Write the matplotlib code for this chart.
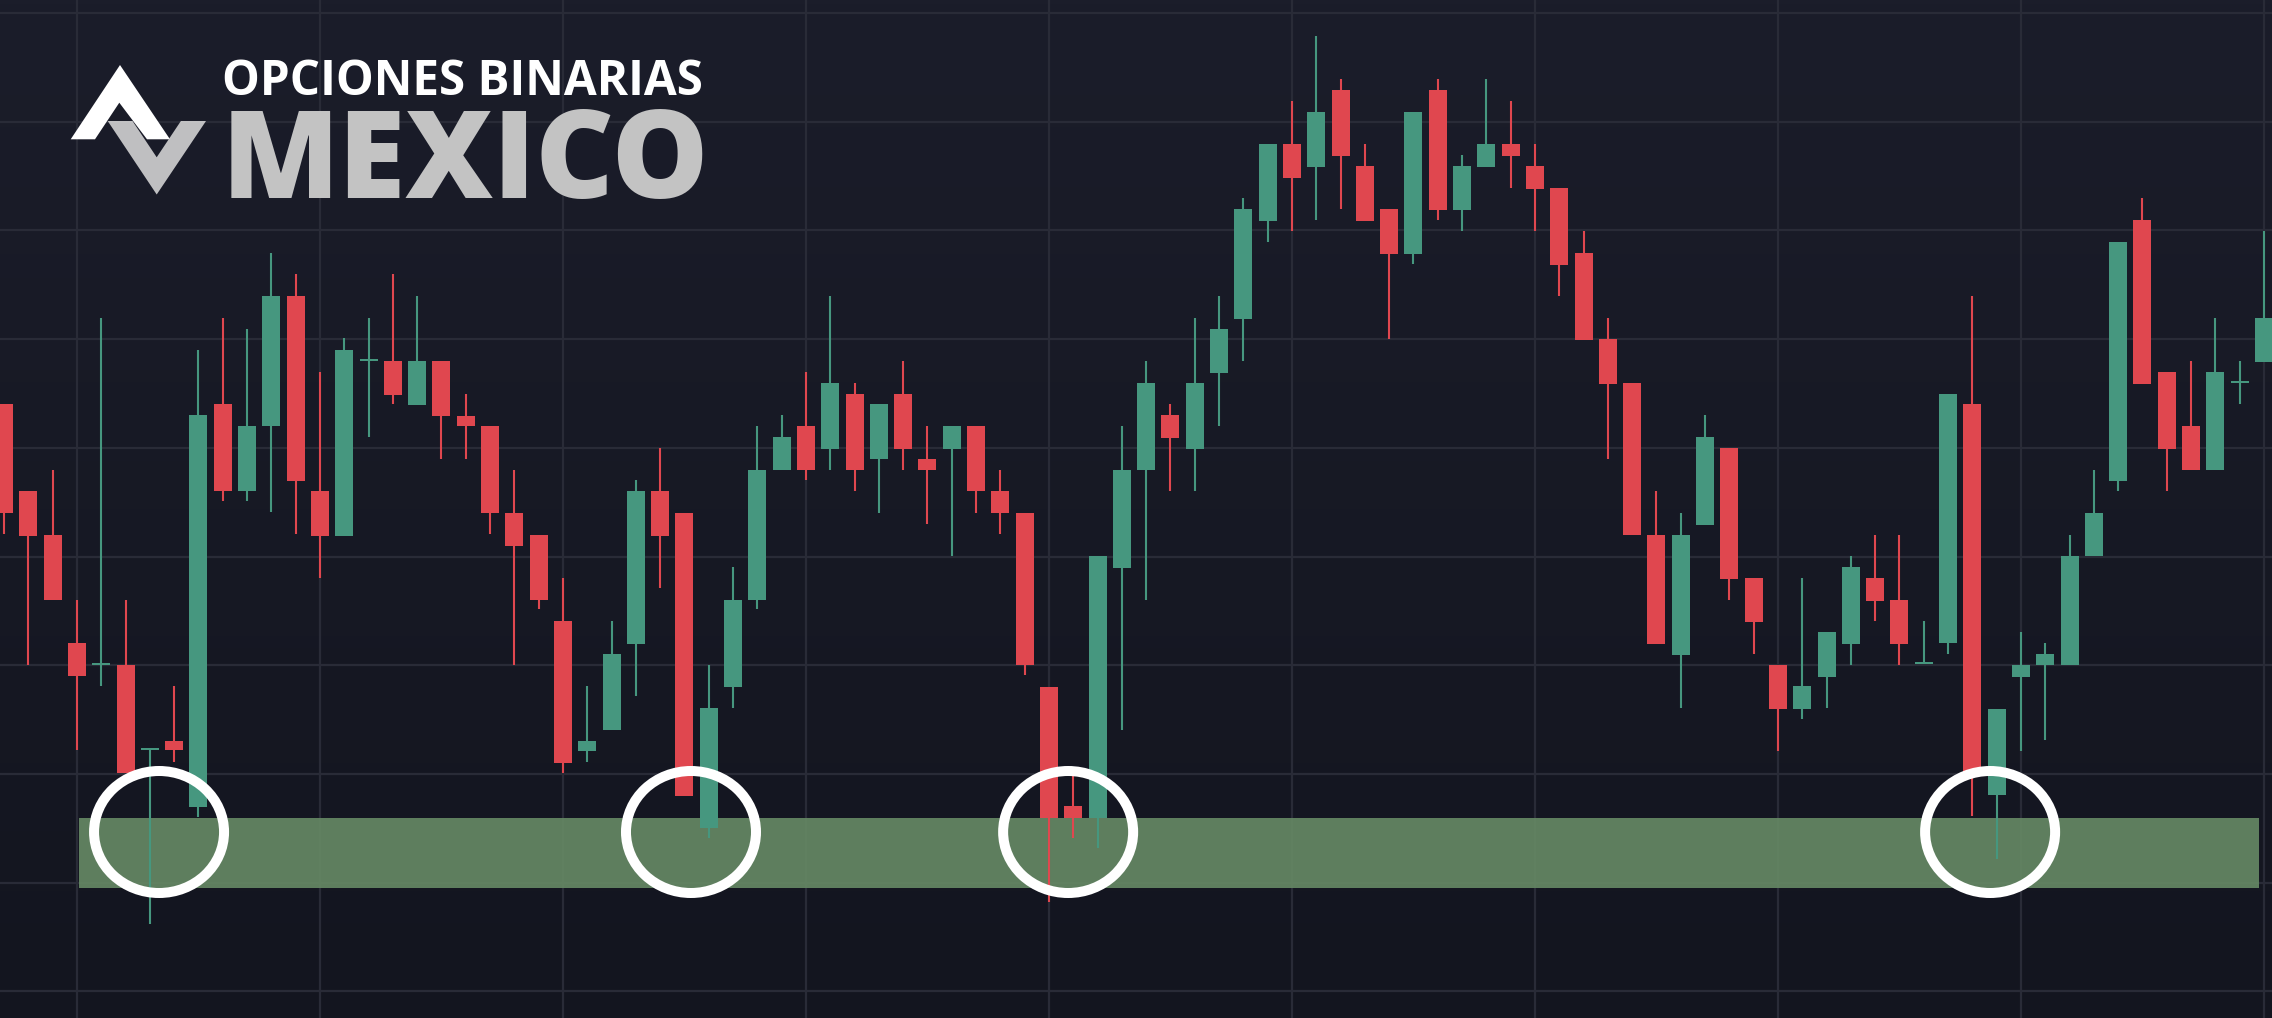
import numpy as np
import matplotlib
matplotlib.use('Agg')
import matplotlib.pyplot as plt
from matplotlib.patches import Rectangle, Ellipse, Polygon

# ---- candle data (arbitrary price units) ----
opens = [596, 509, 465, 357, 335, 335, 250, 259, 193, 596,
         509, 574, 704, 509, 464, 639, 639, 595, 639, 584,
         574, 487, 465, 379, 249, 270, 356, 509, 487, 172,
         313, 400, 530, 574, 551, 606, 541, 606, 541, 551,
         574, 509, 487, 313, 194, 182, 432, 530, 585, 551,
         627, 681, 779, 856, 833, 910, 834, 791, 746, 910,
         790, 833, 856, 834, 812, 747, 661, 617, 465, 345,
         475, 552, 422, 335, 291, 323, 356, 422, 400, 336,
         357, 596, 205, 323, 335, 335, 444, 519, 780, 628,
         574, 530, 617, 638]
highs = [596, 509, 530, 400, 682, 400, 251, 314, 650, 682,
         671, 747, 726, 628, 662, 682, 726, 704, 639, 606,
         574, 530, 465, 422, 314, 379, 520, 552, 487, 335,
         433, 574, 585, 628, 704, 617, 596, 639, 574, 574,
         574, 530, 487, 313, 225, 444, 574, 639, 596, 682,
         704, 802, 856, 899, 964, 921, 856, 791, 888, 921,
         845, 921, 899, 856, 812, 769, 682, 617, 509, 487,
         585, 552, 422, 335, 422, 368, 444, 465, 465, 379,
         606, 704, 291, 368, 357, 465, 530, 758, 802, 628,
         639, 682, 639, 769]
lows = [466, 335, 400, 250, 314, 227, 76, 238, 183, 499,
        499, 488, 466, 422, 464, 563, 596, 595, 541, 541,
        466, 335, 391, 227, 238, 270, 304, 412, 204, 162,
        292, 391, 530, 520, 530, 509, 487, 530, 476, 444,
        487, 466, 325, 98, 162, 152, 270, 400, 509, 509,
        574, 639, 758, 769, 780, 791, 779, 661, 736, 780,
        769, 833, 812, 769, 704, 660, 541, 465, 356, 292,
        475, 400, 346, 249, 281, 292, 335, 379, 335, 336,
        346, 184, 141, 249, 260, 335, 444, 509, 616, 509,
        530, 530, 596, 638]
closes = [487, 464, 400, 324, 336, 227, 251, 250, 585, 509,
          574, 704, 519, 464, 650, 640, 605, 639, 584, 574,
          487, 454, 400, 237, 259, 346, 509, 464, 204, 292,
          400, 530, 563, 530, 617, 530, 596, 551, 530, 574,
          509, 487, 335, 182, 182, 444, 530, 617, 562, 617,
          671, 791, 856, 822, 888, 844, 779, 746, 888, 790,
          834, 856, 844, 811, 735, 660, 616, 465, 356, 465,
          563, 421, 378, 291, 314, 368, 433, 399, 356, 337,
          606, 228, 291, 335, 346, 444, 487, 758, 616, 551,
          530, 628, 618, 682]

# support zone (price range) and the candles it spans
zone_low, zone_high = 112, 182
zone_start, zone_end = 3.09, 92.8
# highlighted touches of the support (candle position)
touch_positions = [6.38, 28.27, 43.79, 81.73]
touch_level = 168

logo_top = "OPCIONES BINARIAS"
logo_bottom = "MEXICO"

UP = '#46977f'
DOWN = '#e0474f'

W, H = 2272, 1018
fig = plt.figure(figsize=(W / 100, H / 100), dpi=100)
ax = fig.add_axes([0, 0, 1, 1])
xlim = (-0.165, 93.33)
ylim = (-18, 1000)

# background gradient
top = np.array([27, 29, 42]) / 255
bot = np.array([19, 21, 31]) / 255
t = np.linspace(0, 1, 256)[:, None]
grad = (top * (1 - t) + bot * t)[:, None, :]
ax.imshow(grad, extent=[xlim[0], xlim[1], ylim[0], ylim[1]], aspect='auto',
          origin='upper', zorder=-10)
ax.set_xlim(*xlim)
ax.set_ylim(*ylim)

# grid
ax.set_xticks(np.arange(3, 94, 10))
ax.set_yticks(987 - 108.7 * np.arange(10))
ax.grid(True, color='#292b37', lw=1.6)
ax.set_axisbelow(True)
ax.tick_params(length=0, labelbottom=False, labelleft=False)
for s in ax.spines.values():
    s.set_visible(False)

o = np.array(opens, float)
c = np.array(closes, float)
hi = np.array(highs, float)
lo = np.array(lows, float)
x = np.arange(len(o))
cols = np.where(c >= o, UP, DOWN)

# zone
ax.add_patch(Rectangle((zone_start, zone_low), zone_end - zone_start,
                       zone_high - zone_low, facecolor=(101/255, 136/255, 100/255),
                       alpha=0.92, lw=0, zorder=2))

# candles
ax.vlines(x, lo, hi, colors=cols, lw=1.5, zorder=3)
bottoms = np.minimum(o, c)
heights = np.maximum(np.abs(c - o), 2.5)
ax.bar(x, heights, bottom=bottoms, width=0.74, color=cols, lw=0, zorder=4)

# circles
for cx in touch_positions:
    ax.add_patch(Ellipse((cx, touch_level), 5.35, 122, fill=False,
                         ec='white', lw=7.2, zorder=6))

# logo overlay (pixel coordinates)
ax2 = fig.add_axes([0, 0, 1, 1])
ax2.set_xlim(0, W)
ax2.set_ylim(H, 0)
ax2.axis('off')
ax2.patch.set_alpha(0)

ax2.add_patch(Polygon([(70.7, 139.3), (120, 65), (170, 139.3), (147, 139.3),
                       (119.3, 102.7), (95, 139.3)], closed=True,
                      fc='white', lw=0, zorder=1))
ax2.add_patch(Polygon([(107.7, 121), (132.5, 121), (156.7, 157.3), (180.9, 121),
                       (206, 121), (156.7, 194.5)], closed=True,
                      fc='#d7d7d7', alpha=0.88, lw=0, zorder=2))

ax2.text(222, 198, logo_bottom, fontsize=87.5, fontweight='heavy',
         family=['Open Sans', 'DejaVu Sans'], color='#c3c3c3',
         ha='left', va='baseline', zorder=3)
ax2.text(222, 95, logo_top, fontsize=34.3, fontweight='bold',
         family=['Open Sans', 'DejaVu Sans'], color='white',
         ha='left', va='baseline', zorder=3)

fig.savefig('out.png', dpi=100)
